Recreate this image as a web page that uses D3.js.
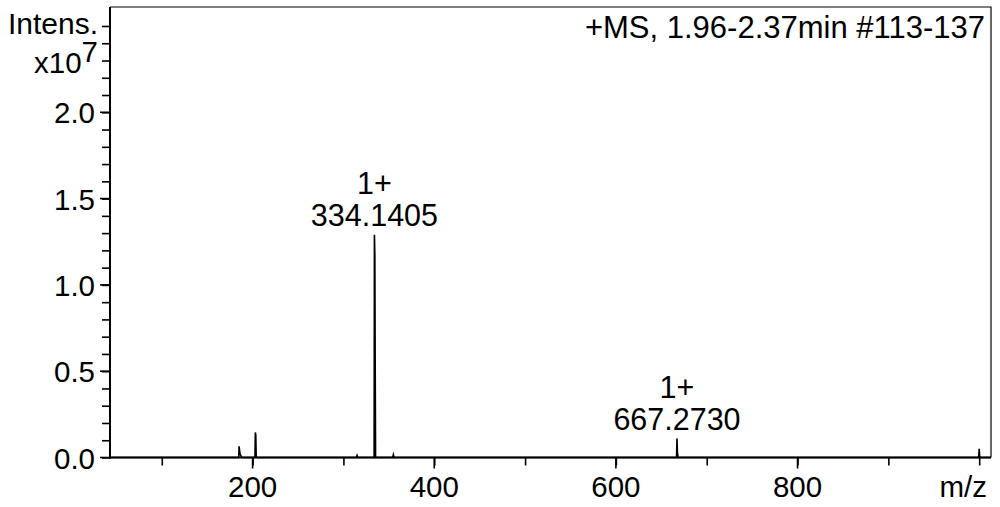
<!DOCTYPE html>
<html>
<head>
<meta charset="utf-8">
<script src="https://cdn.jsdelivr.net/npm/d3@7"></script>
<style>
  html, body { margin: 0; padding: 0; background: #fff; }
  svg { display: block; }
  text { font-family: "Liberation Sans", Arial, sans-serif; fill: #000; }
</style>
</head>
<body>
<svg id="chart" width="1000" height="507"></svg>
<script>
// ---- data ----
const profileMz = [43, 184.8, 185.1, 186.2, 188.2, 202.6, 203.0, 203.5, 204.0,
  314.2, 315.0, 315.8, 333.8, 334.14, 334.6, 335.0, 335.4,
  354.2, 355.0, 355.8, 666.8, 667.27, 667.7, 668.6, 999.4, 1000.0, 1000.6, 1013];
const profileInt = [0, 0, 0.065, 0.02, 0, 0, 0.145, 0.13, 0,
  0, 0.012, 0, 0, 1.29, 1.17, 0.52, 0,
  0, 0.016, 0, 0, 0.11, 0.03, 0, 0, 0.05, 0, 0];
const peakLabelMz = [334.1405, 667.2730];
const peakLabelInt = [1.29, 0.11];
const peakCharge = ["1+", "1+"];
const yTicks = [0.0, 0.5, 1.0, 1.5, 2.0];
const xTicks = [200, 400, 600, 800];
const titleText = "+MS, 1.96-2.37min #113-137";

// ---- layout ----
const svg = d3.select("#chart");
const L = 110, R = 991, T = 7, B = 457.5;
const x = d3.scaleLinear().domain([43, 1013]).range([L, R]);
const y = d3.scaleLinear().domain([0, 2.61]).range([B, T]);

// frame (top/right)
svg.append("path")
  .attr("d", `M${L},${T}H${R}V${B}`)
  .attr("fill", "none").attr("stroke", "#000").attr("stroke-width", 1.2);

// spectrum
const pts = profileMz.map((m, i) => [m, profileInt[i]]);
svg.append("path")
  .datum(pts)
  .attr("d", d3.line().x(d => x(d[0])).y(d => y(d[1])))
  .attr("fill", "none").attr("stroke", "#000").attr("stroke-width", 1.6)
  .attr("stroke-linejoin", "miter");

// y axis: minor ticks every 0.1, major every 0.5
const yMinor = d3.range(0, 26).map(i => i / 10);
const yAxis = svg.append("g").attr("transform", `translate(${L},0)`);
yAxis.call(d3.axisLeft(y).tickValues(yMinor).tickSize(8).tickFormat(""));
yAxis.call(g => g.select(".domain").remove());
yAxis.selectAll(".tick line").attr("stroke", "#000").attr("stroke-width", 1.6);
svg.append("line").attr("x1", L).attr("x2", L).attr("y1", T).attr("y2", B + 1)
  .attr("stroke", "#000").attr("stroke-width", 2);
svg.append("g").selectAll("line").data(yTicks).join("line")
  .attr("x1", L - 10).attr("x2", L).attr("y1", d => y(d)).attr("y2", d => y(d))
  .attr("stroke", "#000").attr("stroke-width", 1.6);
svg.append("g").selectAll("text").data(yTicks).join("text")
  .attr("x", 95).attr("y", d => y(d) + 11)
  .attr("text-anchor", "end").attr("font-size", 29.5)
  .text(d => d.toFixed(1));

// x axis: minor every 100, major every 200
const xMinor = d3.range(100, 1001, 100);
const xAxis = svg.append("g").attr("transform", `translate(0,${B})`);
xAxis.call(d3.axisBottom(x).tickValues(xMinor).tickSize(8).tickFormat(""));
xAxis.call(g => g.select(".domain").remove());
xAxis.selectAll(".tick line").attr("stroke", "#000").attr("stroke-width", 1.6);
svg.append("line").attr("x1", L - 1).attr("x2", R).attr("y1", B).attr("y2", B)
  .attr("stroke", "#000").attr("stroke-width", 2.2);
svg.append("g").selectAll("line").data(xTicks).join("line")
  .attr("x1", d => x(d)).attr("x2", d => x(d)).attr("y1", B).attr("y2", B + 11)
  .attr("stroke", "#000").attr("stroke-width", 1.6);
svg.append("g").selectAll("text").data(xTicks).join("text")
  .attr("x", d => x(d)).attr("y", 497)
  .attr("text-anchor", "middle").attr("font-size", 29.5)
  .text(d => d);
svg.append("text").attr("x", 987).attr("y", 497)
  .attr("text-anchor", "end").attr("font-size", 29.5).text("m/z");

// axis title
svg.append("text").attr("x", 98).attr("y", 34)
  .attr("text-anchor", "end").attr("font-size", 30).text("Intens.");
const xt = svg.append("text").attr("x", 98).attr("y", 73)
  .attr("text-anchor", "end").attr("font-size", 29.5);
xt.append("tspan").text("x10");
xt.append("tspan").attr("dy", -11).text("7");

// title
svg.append("text").attr("x", 985).attr("y", 38)
  .attr("text-anchor", "end").attr("font-size", 31).text(titleText);

// peak labels
const lab = svg.append("g");
peakLabelMz.forEach((m, i) => {
  lab.append("text").attr("x", x(m)).attr("y", y(peakLabelInt[i]) - 9)
    .attr("text-anchor", "middle").attr("font-size", 30.5).text(m.toFixed(4));
  lab.append("text").attr("x", x(m)).attr("y", y(peakLabelInt[i]) - 41)
    .attr("text-anchor", "middle").attr("font-size", 30.5).text(peakCharge[i]);
});
</script>
</body>
</html>
